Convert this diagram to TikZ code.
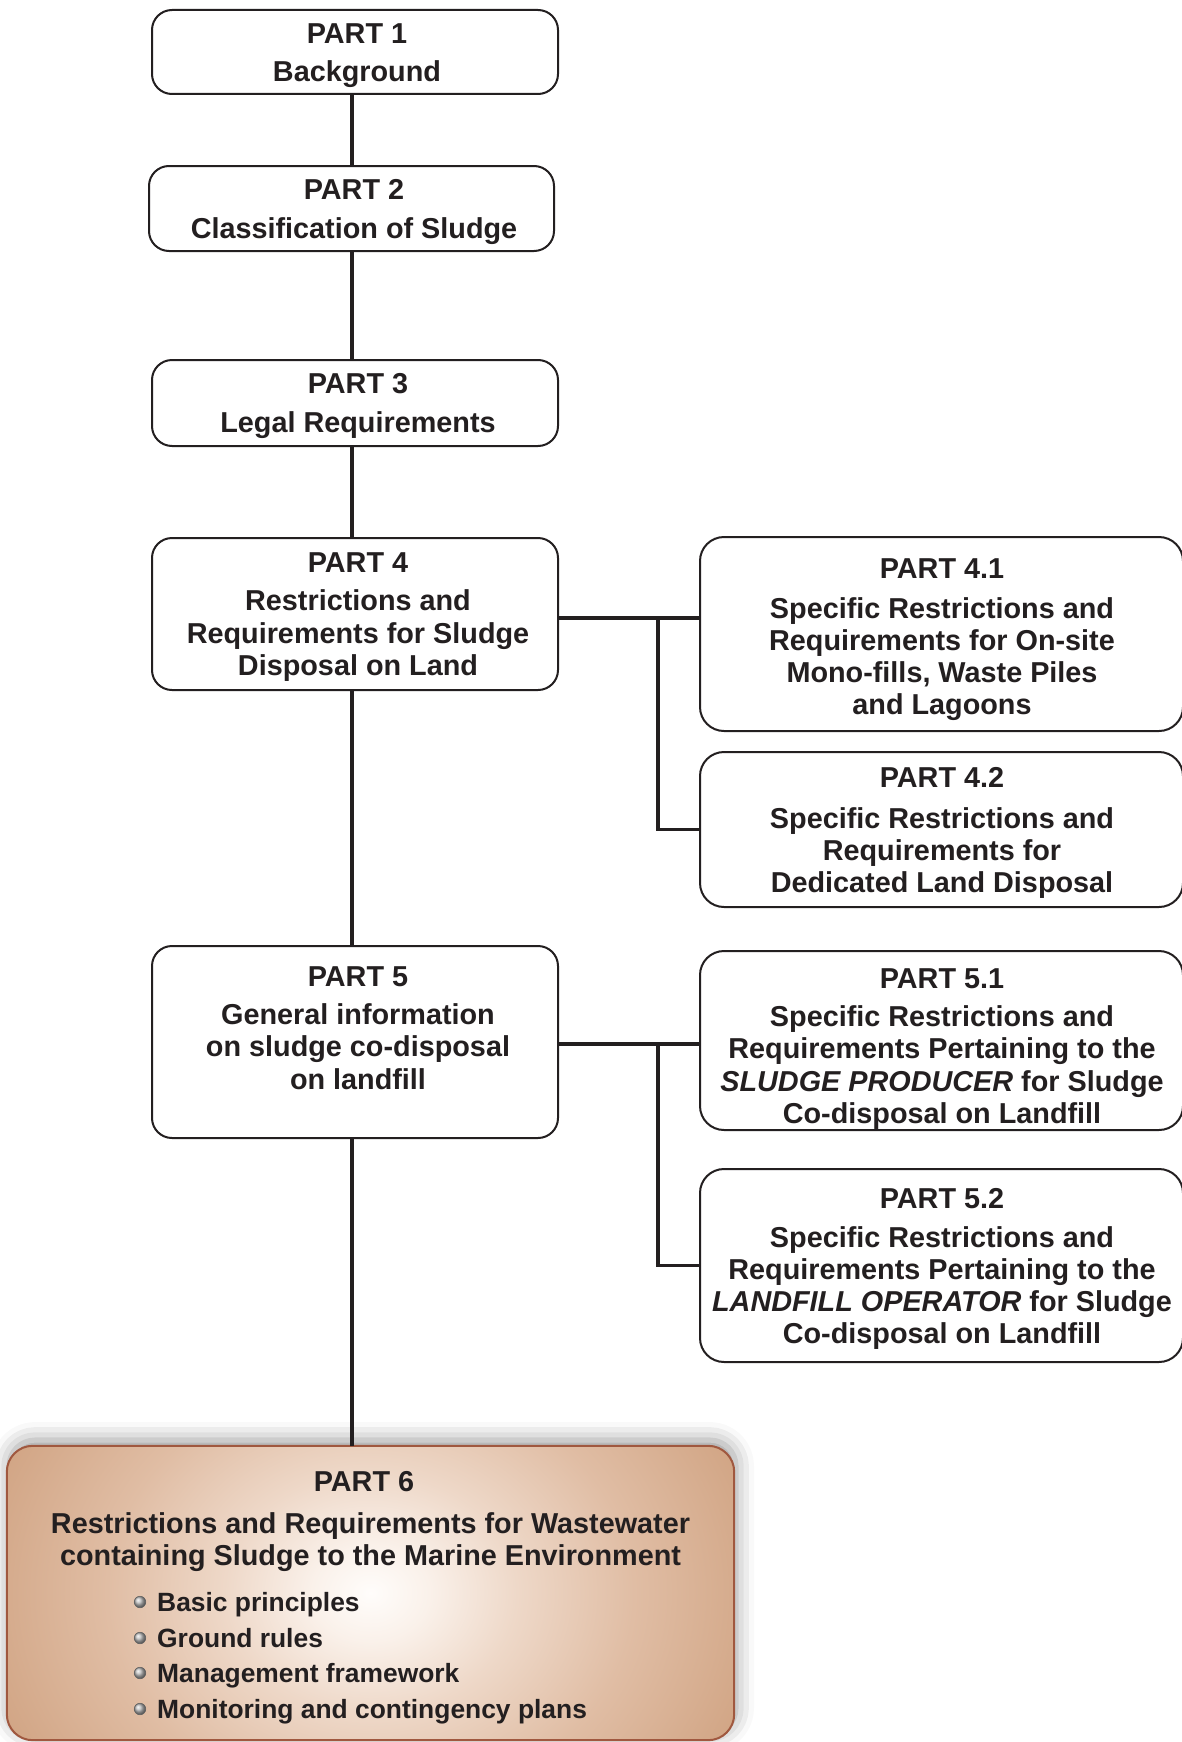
\documentclass[tikz,border=0pt]{standalone}
\usepackage{fontspec}
\setmainfont{Liberation Sans}
\usetikzlibrary{shadows.blur}
\definecolor{ink}{HTML}{231F20}
\definecolor{pbord}{HTML}{A0583F}
\definecolor{cza}{HTML}{FFFDFB}
\definecolor{czb}{HTML}{FAF1EA}
\definecolor{czc}{HTML}{EED8C8}
\definecolor{czd}{HTML}{E0BDA4}
\definecolor{cze}{HTML}{D2A686}
\definecolor{czf}{HTML}{C29069}
\definecolor{czg}{HTML}{B9835E}
\definecolor{czh}{HTML}{B47C56}
\pgfdeclareradialshading{ptsix}{\pgfpoint{0bp}{0bp}}{%
  color(0bp)=(cza); color(4bp)=(czb); color(10bp)=(czc); color(18bp)=(czd);
  color(27bp)=(cze); color(35bp)=(czf); color(42bp)=(czg); color(50bp)=(czh)}
\tikzset{
  boxshape/.style={draw=ink, fill=white, line width=2pt, rounded corners=20pt, inner sep=0pt},
  txt/.style={text=ink, font=\fontsize{28.8}{32.2}\selectfont\bfseries, align=center, inner sep=0pt},
  bultxt/.style={text=ink, font=\fontsize{26.4}{32}\selectfont\bfseries, inner sep=0pt, anchor=base west},
  bulletdot/.style={circle, minimum size=11.5pt, inner sep=0pt, shading=ball, ball color=gray!50, draw=gray!75!black, line width=0.6pt},
  conn/.style={draw=ink, line width=3.3pt},
}
\begin{document}
\begin{tikzpicture}[x=1pt,y=-1pt]
\useasboundingbox (0,0) rectangle (1182,1742);

% PART 6 box
\node[minimum width=727pt, minimum height=294pt, inner sep=0pt, rounded corners=26pt,
  blur shadow={shadow xshift=2pt, shadow yshift=6pt, shadow blur radius=18pt, shadow opacity=40}] (p6) at (370.5,1593) {};
\begin{scope}
  \clip[rounded corners=26pt] (p6.south west) rectangle (p6.north east);
  \shade[shading=ptsix] (p6.center) +(-366,-300) rectangle +(366,300);
\end{scope}
\draw[pbord, line width=2pt, rounded corners=26pt] (p6.south west) rectangle (p6.north east);

% boxes
\node[boxshape, minimum width=406pt, minimum height=84pt] (p1) at (355,52) {};
\node[boxshape, minimum width=405pt, minimum height=85pt] (p2) at (351.5,208.5) {};
\node[boxshape, minimum width=406pt, minimum height=86pt] (p3) at (355,403) {};
\node[boxshape, minimum width=406pt, minimum height=152pt] (p4) at (355,614) {};
\node[boxshape, minimum width=406pt, minimum height=192pt] (p5) at (355,1042) {};
\node[boxshape, minimum width=483pt, minimum height=194pt, rounded corners=24pt] (p41) at (941.5,634) {};
\node[boxshape, minimum width=483pt, minimum height=155pt, rounded corners=24pt] (p42) at (941.5,829.5) {};
\node[boxshape, minimum width=483pt, minimum height=179pt, rounded corners=24pt] (p51) at (941.5,1040.5) {};
\node[boxshape, minimum width=483pt, minimum height=193pt, rounded corners=24pt] (p52) at (941.5,1265.5) {};

% connectors
\coordinate (spine) at (352,0);
\coordinate (b4) at (658,618);
\coordinate (b5) at (658,1044);
\draw[conn] (p1.south -| spine) -- (p2.north -| spine);
\draw[conn] (p2.south -| spine) -- (p3.north -| spine);
\draw[conn] (p3.south -| spine) -- (p4.north -| spine);
\draw[conn] (p4.south -| spine) -- (p5.north -| spine);
\draw[conn] (p5.south -| spine) -- (p6.north -| spine);
\draw[conn] (b4 -| p4.east) -- (b4 -| p41.west);
\draw[conn] (b4) |- (p42.west);
\draw[conn] (b5 -| p5.east) -- (b5 -| p51.west);
\draw[conn] (b5) |- (p52.west);

% texts
\node[txt] (t1) at (357,56) {PART 1\\[6pt]Background};
\node[txt] (t2) at (354,212) {PART 2\\[6pt]Classification of Sludge};
\node[txt] (t3) at (358,406) {PART 3\\[6pt]Legal Requirements};
\node[txt] (t4) at (358,617) {PART 4\\[6pt]Restrictions and\\Requirements for Sludge\\Disposal on Land};
\node[txt] (t5) at (358,1028) {PART 5\\[6pt]General information\\on sludge co-disposal\\on landfill};
\node[txt] (t41) at (942,640) {PART 4.1\\[7pt]Specific Restrictions and\\Requirements for On-site\\Mono-fills, Waste Piles\\and Lagoons};
\node[txt] (t42) at (942,833) {PART 4.2\\[9pt]Specific Restrictions and\\Requirements for\\Dedicated Land Disposal};
\node[txt] (t51) at (942,1049) {PART 5.1\\[6pt]Specific Restrictions and\\Requirements Pertaining to the\\\textit{SLUDGE PRODUCER} for Sludge\\Co-disposal on Landfill};
\node[txt] (t52) at (942,1269) {PART 5.2\\[7pt]Specific Restrictions and\\Requirements Pertaining to the\\\textit{LANDFILL OPERATOR} for Sludge\\Co-disposal on Landfill};

\node[txt] (t6a) at (364,1482) {PART 6};
\node[txt] (t6b) at (370.5,1542) {Restrictions and Requirements for Wastewater\\containing Sludge to the Marine Environment};

\node[bulletdot] (d1) at (140,1602) {};
\node[bulletdot] (d2) at (140,1638) {};
\node[bulletdot] (d3) at (140,1673) {};
\node[bulletdot] (d4) at (140,1709) {};
\node[bultxt] (u1) at (157,1611.5) {Basic principles};
\node[bultxt] (u2) at (157,1647.5) {Ground rules};
\node[bultxt] (u3) at (157,1682.5) {Management framework};
\node[bultxt] (u4) at (157,1718.5) {Monitoring and contingency plans};
\end{tikzpicture}
\end{document}
